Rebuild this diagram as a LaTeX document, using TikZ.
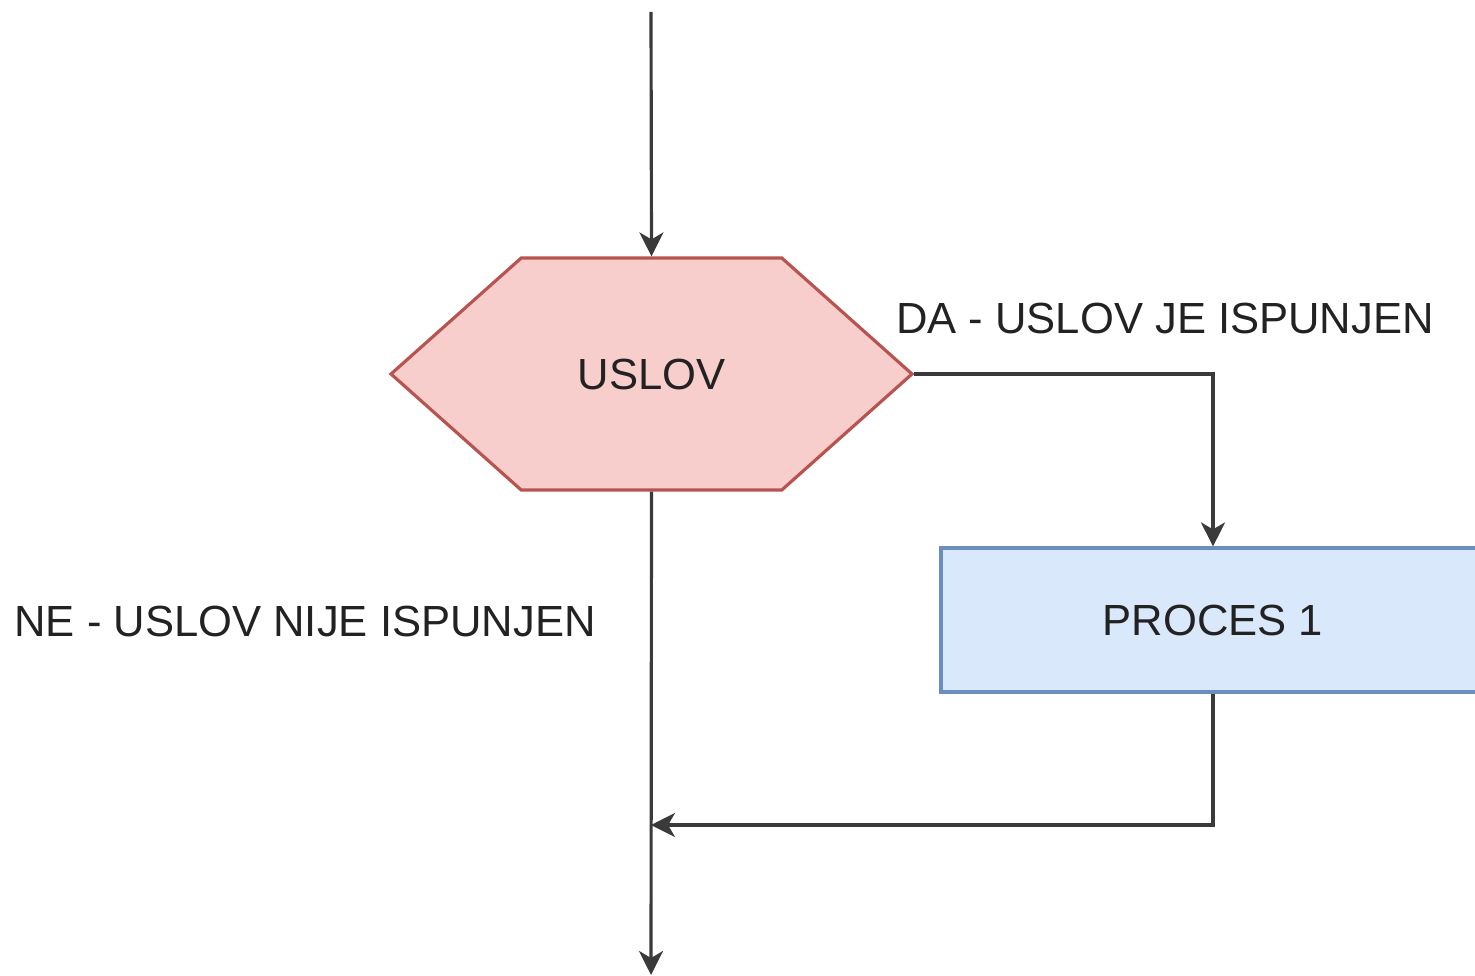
\documentclass[tikz,border=0pt]{standalone}
\usepackage{fontspec}
\setmainfont{Liberation Sans}
\usepackage{xcolor}
\usetikzlibrary{arrows.meta, shapes.symbols, positioning}

\definecolor{uslovfill}{HTML}{F8CECC}
\definecolor{uslovline}{HTML}{B85450}
\definecolor{procesfill}{HTML}{DAE8FC}
\definecolor{procesline}{HTML}{6C8EBF}
\definecolor{linija}{HTML}{3A3A3A}
\definecolor{tekst}{HTML}{222222}

\tikzset{
    uslovbox/.style={signal, signal to=east and west, signal pointer angle=83.4,
        draw=uslovline, fill=uslovfill, line width=0.9pt,
        minimum width=5.21cm, minimum height=2.32cm, inner sep=0pt,
        text=tekst, font=\fontsize{12.4pt}{15pt}\selectfont},
    procesbox/.style={rectangle, draw=procesline, fill=procesfill, line width=0.9pt,
        minimum width=5.44cm, minimum height=1.44cm, inner sep=0pt,
        text=tekst, font=\fontsize{12.4pt}{15pt}\selectfont},
    veza/.style={draw=linija, line width=0.9pt,
        -{Stealth[length=2.4mm, width=2.4mm, inset=0.7mm]}},
    oznaka/.style={text=tekst, font=\fontsize{12.4pt}{15pt}\selectfont, inner sep=0pt}
}

\begin{document}
\begin{tikzpicture}
    \useasboundingbox (0,0) rectangle (14.75,-9.76);
    % Čvorovi
    \coordinate (pocetak) at (6.51,-0.12);
    \node[uslovbox] (uslov) at (6.515,-3.74) {USLOV};
    \node[procesbox] (proces) at (12.13,-6.20) {PROCES 1};
    \coordinate (spoj) at (6.51,-8.25);
    \coordinate (kraj) at (6.51,-9.75);

    % Veze
    \draw[veza] (pocetak) -- (uslov.north);
    \draw[veza] (uslov.east) -| (proces.north);
    \draw[veza] (proces.south) |- (spoj);
    \draw[veza] (uslov.south) -- (kraj);

    % Natpisi
    \node[oznaka] (da) at (11.65,-3.18) {DA - USLOV JE ISPUNJEN};
    \node[oznaka] (ne) at (3.05,-6.21) {NE - USLOV NIJE ISPUNJEN};
\end{tikzpicture}
\end{document}
